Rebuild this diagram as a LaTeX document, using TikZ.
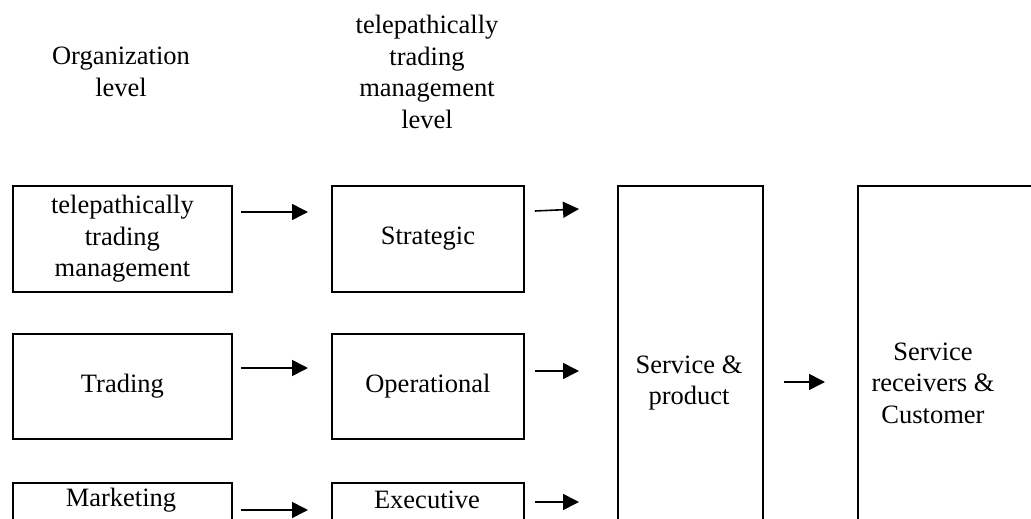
\documentclass[tikz,border=0pt]{standalone}
\usepackage{fontspec}
\setmainfont{Liberation Serif}
\usetikzlibrary{arrows.meta,calc}
\begin{document}
\begin{tikzpicture}[x=1pt,y=-1pt,
  box/.style={draw,line width=1.8pt,inner sep=0pt,align=center,anchor=north west},
  lbl/.style={align=center,inner sep=0pt},
  arr/.style={line width=1.6pt,-{Triangle[length=16pt,width=16pt]}},
  every node/.style={font=\fontsize{26.5}{31.5}\selectfont}]
\useasboundingbox (0,0) rectangle (1031,519);
\clip (0,0) rectangle (1031,519);
% headers
\node[lbl] (h1) at (121,72) {Organization\\level};
\node[lbl] (h2) at (427,72) {telepathically\\trading\\management\\level};
% left column
\node[box,minimum width=219,minimum height=106] (a1) at (12,185) {telepathically\\trading\\management};
\node[box,minimum width=219,minimum height=105] (a2) at (12,333) {Trading};
\node[box,minimum width=219,minimum height=106] (a3) at (12,482) {};
\node[lbl] (a3t) at (121,500) {Marketing};
% middle column
\node[box,minimum width=192,minimum height=106] (b1) at (331,185) {Strategic};
\node[box,minimum width=192,minimum height=105] (b2) at (331,333) {Operational};
\node[box,minimum width=192,minimum height=106] (b3) at (331,482) {};
\node[lbl] (b3t) at (427,500) {Executive};
% service & product
\node[box,minimum width=145,minimum height=396] (sp) at (617,185) {};
\node[lbl] (spt) at (689,383) {Service \&\\product};
% customer
\node[box,minimum width=220,minimum height=396] (cu) at (857,185) {};
\node[lbl] (cut) at (933,383) {Service\\receivers \&\\Customer};
% arrows left -> middle
\draw[arr] ([xshift=8pt]a1.east |- 0,212) -- ([xshift=-23pt]b1.west |- 0,212);
\draw[arr] ([xshift=8pt]a2.east |- 0,368) -- ([xshift=-23pt]b2.west |- 0,368);
\draw[arr] ([xshift=8pt]a3.east |- 0,510) -- ([xshift=-23pt]b3.west |- 0,510);
% arrows middle -> service
\draw[arr] ([xshift=10pt]b1.east |- 0,211) -- ([xshift=-38pt]sp.west |- 0,209);
\draw[arr] ([xshift=10pt]b2.east |- 0,371) -- ([xshift=-38pt]sp.west |- 0,371);
\draw[arr] ([xshift=10pt]b3.east |- 0,502) -- ([xshift=-38pt]sp.west |- 0,502);
% service -> customer
\draw[arr] ([xshift=20pt]sp.east |- 0,382) -- ([xshift=-32pt]cu.west |- 0,382);
\end{tikzpicture}
\end{document}
